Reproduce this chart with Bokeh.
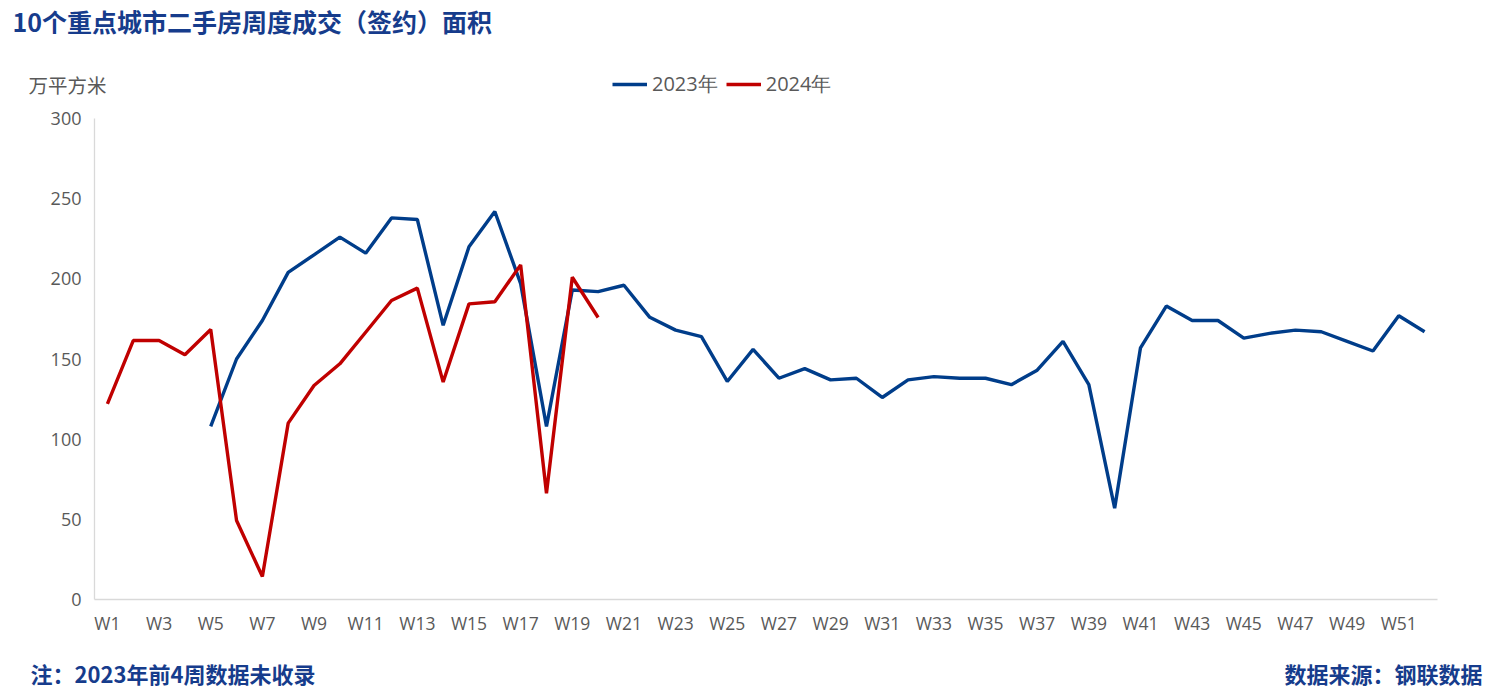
from bokeh.plotting import figure
from bokeh.models import ColumnDataSource, Range1d, FixedTicker, Legend, LegendItem, Label
from bokeh.layouts import column
from bokeh.embed import file_html
from bokeh.resources import INLINE

nan = float("nan")

# ---- data ----
weeks = [f"W{i}" for i in range(1, 53)]
area_2023 = [nan, nan, nan, nan,
             108, 150, 174, 204, 215, 226, 216, 238, 237, 171, 220, 242, 197, 108,
             193, 192, 196, 176, 168, 164, 136, 156, 138, 144, 137, 138, 126, 137,
             139, 138, 138, 134, 143, 161, 134, 57, 157, 183, 174, 174, 163, 166,
             168, 167, 161, 155, 177, 167]
area_2024 = [122, 161.5, 161.5, 152.6, 168.4, 49.3, 14.3, 110, 133.5, 147,
             166.7, 186.5, 194.2, 135.6, 184.4, 185.7, 208.7, 66.3, 201, 175.9]
y_ticks = [0, 50, 100, 150, 200, 250, 300]
series_names = ["2023年", "2024年"]
title_text = "10个重点城市二手房周度成交（签约）面积"
unit_text = "万平方米"
note_text = "注：2023年前4周数据未收录"
source_text = "数据来源：钢联数据"

BLUE = "#003d8a"
RED = "#c00000"
DARK = "#163c8c"
GRAY = "#595959"
AXIS = "#d9d9d9"
CJK = "Noto Sans CJK SC"

PW = 1492
HEAD_H, MAIN_H, FOOT_H = 100, 550, 43

xs = [i + 1 for i in range(len(weeks))]


def bare(h):
    f = figure(width=PW, height=h, output_backend="svg", toolbar_location=None,
               x_range=Range1d(0, PW), y_range=Range1d(h, 0),
               min_border_left=0, min_border_right=0, min_border_top=0,
               min_border_bottom=0, background_fill_color="white",
               border_fill_color="white", frame_align=False)
    f.outline_line_color = None
    f.axis.visible = False
    f.grid.visible = False
    return f


# ---- header: title, unit, legend ----
head = bare(HEAD_H)
head.add_layout(Label(x=12, y=20, text=title_text, text_font=CJK, text_font_size="25px",
                      text_font_style="bold", text_color=DARK, text_baseline="middle"))
head.add_layout(Label(x=28, y=84, text=unit_text, text_font=CJK, text_font_size="19.5px",
                      text_color=GRAY, text_baseline="middle"))
# legend keys (no visible points; they only carry the line style)
h23 = head.line(x=[nan], y=[nan], line_color=BLUE, line_width=3.4)
h24 = head.line(x=[nan], y=[nan], line_color=RED, line_width=3.4)
legend = Legend(items=[LegendItem(label=series_names[0], renderers=[h23]),
                       LegendItem(label=series_names[1], renderers=[h24])],
                orientation="horizontal", location=(612, 2),
                glyph_width=35, glyph_height=20, label_height=20,
                label_standoff=5, spacing=8, padding=0, margin=0,
                label_text_font="Open Sans", label_text_font_size="20px",
                label_text_color=GRAY, border_line_color=None,
                background_fill_alpha=0)
head.add_layout(legend)

# ---- main chart ----
p = figure(width=PW, height=MAIN_H, output_backend="svg", toolbar_location=None,
           x_range=Range1d(0.5, len(weeks) + 0.5), y_range=Range1d(0, 300),
           min_border_left=94, min_border_right=55, min_border_top=18,
           min_border_bottom=51, background_fill_color="white",
           border_fill_color="white", frame_align=False)
p.outline_line_color = None
p.grid.visible = False

src23 = ColumnDataSource(dict(x=xs, y=area_2023))
src24 = ColumnDataSource(dict(x=xs[:len(area_2024)], y=area_2024))
p.line("x", "y", source=src23, line_color=BLUE, line_width=3.4)
p.line("x", "y", source=src24, line_color=RED, line_width=3.4)

p.xaxis.ticker = FixedTicker(ticks=xs[::2])
p.xaxis.major_label_overrides = {x: weeks[x - 1] for x in xs[::2]}
p.yaxis.ticker = FixedTicker(ticks=y_ticks)
for ax in (p.xaxis, p.yaxis):
    ax.axis_line_color = AXIS
    ax.axis_line_width = 1.3
    ax.major_tick_line_color = None
    ax.minor_tick_line_color = None
    ax.major_tick_out = 0
    ax.major_tick_in = 0
    ax.major_label_text_color = GRAY
    ax.major_label_text_font = "Open Sans"
p.xaxis.major_label_text_font_size = "17.5px"
p.yaxis.major_label_text_font_size = "18px"
p.xaxis.major_label_standoff = 11
p.yaxis.major_label_standoff = 13

# ---- footer ----
foot = bare(FOOT_H)
foot.add_layout(Label(x=30, y=22, text=note_text, text_font=CJK, text_font_size="22px",
                      text_font_style="bold", text_color=DARK, text_baseline="middle"))
foot.add_layout(Label(x=1482, y=22, text=source_text, text_font=CJK, text_font_size="22px",
                      text_font_style="bold", text_color=DARK, text_baseline="middle",
                      text_align="right"))

layout = column(head, p, foot, spacing=0)
open("out.html", "w").write(file_html(layout, INLINE))
